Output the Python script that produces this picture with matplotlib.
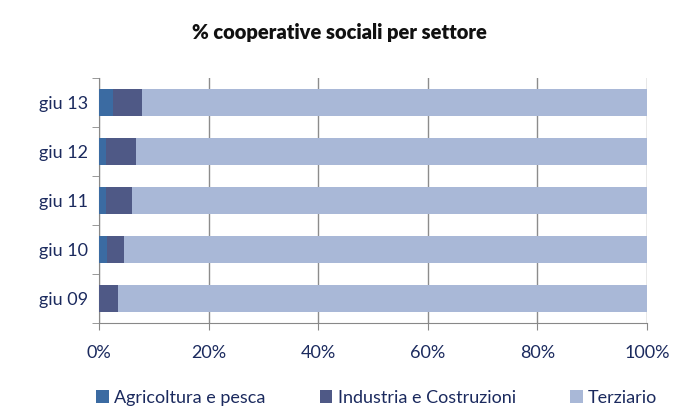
import matplotlib.pyplot as plt
import numpy as np

"""Data"""
periods = ["giu 09", "giu 10", "giu 11", "giu 12", "giu 13"]
agricoltura = [0.0, 1.4, 1.35, 1.3, 2.6]
industria = [3.5, 3.1, 4.6, 5.5, 5.3]
terziario = [96.5, 95.5, 94.05, 93.2, 92.1]

series_names = ["Agricoltura e pesca", "Industria e Costruzioni", "Terziario"]
colors = ["#3B6BA2", "#4F5986", "#A9B8D7"]
text_col = "#1B2A5E"

plt.rcParams['font.family'] = ['Lato', 'DejaVu Sans']

fig = plt.figure(figsize=(6.79, 4.19), dpi=100)
ax = fig.add_axes([99/679, 1-323/419, 548/679, 245/419])

y = np.arange(len(periods))
left = np.zeros(len(periods))
for vals, name, c in zip([agricoltura, industria, terziario], series_names, colors):
    ax.barh(y, vals, left=left, height=0.55, color=c, label=name, zorder=3)
    left = left + np.array(vals)

ax.set_xlim(0, 100)
ax.set_ylim(-0.5, len(periods)-0.5)
ax.set_xticks(np.arange(0, 101, 20))
ax.set_xticklabels([f"{v}%" for v in range(0, 101, 20)])
ax.set_yticks(y)
ax.set_yticklabels(periods)
ax.set_yticks(np.arange(-0.5, len(periods), 1), minor=True)
ax.tick_params(axis='y', which='major', length=0, pad=8, labelsize=13, labelcolor=text_col)
ax.tick_params(axis='y', which='minor', length=5, color="#888888")
ax.tick_params(axis='x', length=5, color="#888888", pad=11, labelsize=13, labelcolor=text_col)
ax.grid(axis='x', color="#8c8c8c", linewidth=1, zorder=0)
for s in ["top", "right"]:
    ax.spines[s].set_visible(False)
ax.spines["left"].set_color("#888888")
ax.spines["bottom"].set_color("#888888")

fig.text(0.50, 1-32/419, "% cooperative sociali per settore", ha='center', va='center',
         fontsize=14.5, fontweight='heavy', color="#111111")

fig.legend(loc='center', bbox_to_anchor=(0.555, 1-398/419), ncol=3, frameon=False,
           fontsize=13, handlelength=0.7, handleheight=0.7, handletextpad=0.3,
           columnspacing=3.0, labelcolor=text_col)

fig.savefig("out.png", dpi=100)
print("end of script")
